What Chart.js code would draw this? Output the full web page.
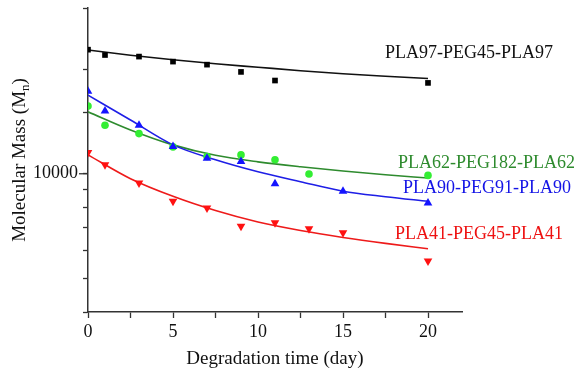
<!DOCTYPE html>
<html>
<head>
<meta charset="utf-8">
<script src="https://cdn.jsdelivr.net/npm/chart.js@4.4.0/dist/chart.umd.min.js"></script>
<style>
html,body{margin:0;padding:0;background:#fff;}
#wrap{width:583px;height:374px;position:relative;}
</style>
</head>
<body>
<div id="wrap"><canvas id="c" width="583" height="374"></canvas></div>
<script>
// ---- data ----
const blackDays = [0, 1, 3, 5, 7, 9, 11, 20];
const blackMn   = [22760, 21970, 21740, 21030, 20610, 19640, 18550, 18260];
const greenDays = [0, 1, 3, 5, 7, 9, 11, 13, 20];
const greenMn   = [15660, 13790, 13050, 11950, 11210, 11330, 10970, 9980, 9890];
const blueDays  = [0, 1, 3, 5, 7, 9, 11, 15, 20];
const blueMn    = [17290, 15150, 13790, 11970, 11090, 10840, 9360, 8900, 8240];
const redDays   = [0, 1, 3, 5, 7, 9, 11, 13, 15, 20];
const redMn     = [11510, 10610, 9400, 8330, 7970, 7060, 7225, 6945, 6760, 5606];

const fitDays   = [0, 2.5, 5, 7.5, 10, 12.5, 15, 17.5, 20];
const blackFit  = [22710, 21930, 21280, 20730, 20260, 19800, 19410, 19090, 18800];
const greenFit  = [15080, 13370, 12110, 11300, 10820, 10470, 10180, 9935, 9720];
const blueFit   = [16840, 14280, 12110, 10970, 10130, 9485, 8910, 8590, 8330];
const redFit    = [11335, 9675, 8610, 7834, 7262, 6866, 6556, 6302, 6085];

const seriesNames = ['PLA97-PEG45-PLA97', 'PLA62-PEG182-PLA62', 'PLA90-PEG91-PLA90', 'PLA41-PEG45-PLA41'];
const xTickLabels = [0, 5, 10, 15, 20];
const yTickLabels = [10000];

const pts = (xs, ys) => xs.map((x, i) => ({x: x, y: ys[i]}));
const SERIF = '"Liberation Serif", "Times New Roman", serif';

const fitStyle = (color) => ({
  showLine: true, borderColor: color, borderWidth: 1.6, pointRadius: 0,
  cubicInterpolationMode: 'monotone', fill: false
});

const labelPlugin = {
  id: 'labels',
  afterDraw(chart) {
    const ctx = chart.ctx;
    ctx.save();
    ctx.font = '18px ' + SERIF;
    ctx.textBaseline = 'middle';
    ctx.textAlign = 'left';
    const lab = [
      [seriesNames[0], '#111111', 385, 53],
      [seriesNames[1], '#2e8b2e', 398, 163],
      [seriesNames[2], '#1414e6', 403, 188],
      [seriesNames[3], '#ee1111', 395, 234]
    ];
    lab.forEach(l => { ctx.fillStyle = l[1]; ctx.fillText(l[0], l[2], l[3]); });
    // y title with subscript
    ctx.fillStyle = '#111';
    ctx.translate(20, 160);
    ctx.rotate(-Math.PI / 2);
    const main = 'Molecular Mass (M';
    const sub = 'n';
    const close = ')';
    ctx.font = '19px ' + SERIF;
    const w1 = ctx.measureText(main).width;
    const w3 = ctx.measureText(close).width;
    ctx.font = '13px ' + SERIF;
    const w2 = ctx.measureText(sub).width;
    const total = w1 + w2 + w3;
    let x0 = -total / 2;
    ctx.font = '19px ' + SERIF;
    ctx.fillText(main, x0, 0);
    ctx.font = '13px ' + SERIF;
    ctx.fillText(sub, x0 + w1, 6);
    ctx.font = '19px ' + SERIF;
    ctx.fillText(close, x0 + w1 + w2, 0);
    ctx.restore();
    // longer major tick at 10000
    const ys = chart.scales.y;
    const yy = ys.getPixelForValue(10000);
    ctx.save();
    ctx.strokeStyle = '#333';
    ctx.lineWidth = 1.3;
    ctx.beginPath();
    ctx.moveTo(ys.right - 9, yy);
    ctx.lineTo(ys.right, yy);
    ctx.stroke();
    ctx.restore();
  }
};

new Chart(document.getElementById('c'), {
  type: 'scatter',
  data: {
    datasets: [
      Object.assign({label: seriesNames[0], data: pts(blackDays, blackMn), pointStyle: 'rect', pointRadius: 4, backgroundColor: '#000', borderColor: '#000', borderWidth: 0}),
      Object.assign({label: seriesNames[2], data: pts(blueDays, blueMn), pointStyle: 'triangle', pointRadius: 5, backgroundColor: '#1414ff', borderColor: '#1414ff', borderWidth: 0}),
      Object.assign({label: seriesNames[1], data: pts(greenDays, greenMn), pointStyle: 'circle', pointRadius: 3.8, backgroundColor: '#33ee33', borderColor: '#33ee33', borderWidth: 0}),
      Object.assign({label: seriesNames[3], data: pts(redDays, redMn), pointStyle: 'triangle', rotation: 180, pointRadius: 5, backgroundColor: '#ff1111', borderColor: '#ff1111', borderWidth: 0}),
      Object.assign({label: 'fit0', data: pts(fitDays, blackFit)}, fitStyle('#111111')),
      Object.assign({label: 'fit2', data: pts(fitDays, blueFit)}, fitStyle('#1e1ee6')),
      Object.assign({label: 'fit1', data: pts(fitDays, greenFit)}, fitStyle('#2e8b2e')),
      Object.assign({label: 'fit3', data: pts(fitDays, redFit)}, fitStyle('#ee1a1a'))
    ]
  },
  options: {
    responsive: false,
    animation: false,
    layout: {padding: {top: 8, right: 121, left: 0, bottom: 0}},
    plugins: {legend: {display: false}, tooltip: {enabled: false}},
    scales: {
      x: {
        type: 'linear', min: 0, max: 22,
        grid: {display: true, drawOnChartArea: false, drawTicks: true, tickLength: 6, tickColor: '#333', tickWidth: 1.3},
        border: {display: true, color: '#333', width: 1.5},
        ticks: {
          stepSize: 2.5, includeBounds: false, autoSkip: false, maxRotation: 0,
          color: '#111', padding: 3,
          font: {family: SERIF, size: 18},
          callback: (v) => xTickLabels.includes(v) ? String(v) : ''
        },
        title: {display: true, text: 'Degradation time (day)', color: '#111', font: {family: SERIF, size: 19}, padding: {top: 0, bottom: 4}},
        afterFit: (s) => { s.height = 62; s.paddingLeft = 0; s.paddingRight = 0; }
      },
      y: {
        type: 'logarithmic', min: 4000, max: 30000,
        grid: {display: true, drawOnChartArea: false, drawTicks: true, tickLength: 5, tickColor: '#333', tickWidth: 1.3},
        border: {display: true, color: '#333', width: 1.5},
        ticks: {
          autoSkip: false, color: '#111', padding: 5,
          font: {family: SERIF, size: 18},
          callback: (v) => yTickLabels.includes(v) ? String(v) : ''
        },
        afterFit: (s) => { s.width = 88; s.paddingTop = 0; s.paddingBottom = 0; }
      }
    }
  },
  plugins: [labelPlugin]
});
</script>
</body>
</html>
